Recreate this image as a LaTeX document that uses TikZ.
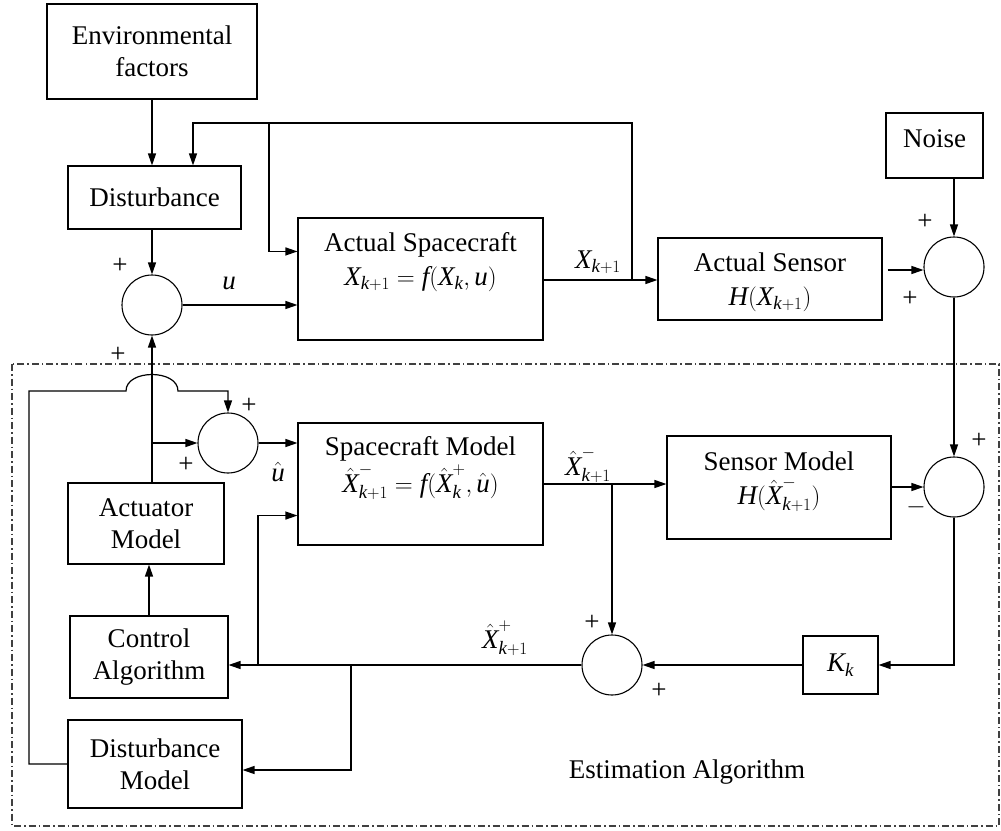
\documentclass[tikz,border=0pt]{standalone}
\usepackage{amsmath}
\usepackage{fontspec}
\setmainfont{Liberation Serif}
\usetikzlibrary{arrows.meta,calc}
\newcommand{\mi}[1]{\textit{#1}}
\begin{document}
\begin{tikzpicture}[x=1pt,y=-1pt,
  font=\fontsize{27}{32}\selectfont,
  box/.style={draw, line width=1.1pt, inner sep=0pt, align=center},
  sumc/.style={draw, circle, line width=1.1pt, minimum size=60pt, inner sep=0pt},
  wire/.style={line width=1.2pt},
  arr/.style={wire, -{Triangle[length=12pt,width=8pt]}},
  lbl/.style={inner sep=0pt, align=center},
  sgn/.style={inner sep=0pt}]
\useasboundingbox (0,0) rectangle (1001,830);

% border of estimation algorithm
\draw[line width=1.1pt, black!75, dash pattern=on 7pt off 3pt on 1.5pt off 3pt] (12,364) rectangle (999,826);
\node[lbl] (est) at (687,772) {Estimation Algorithm};

% upper blocks
\node[box, minimum width=210pt, minimum height=95pt] (env) at (152,51.5) {Environmental\\factors};
\node[box, minimum width=173pt, minimum height=63pt] (dist) at (154.5,197.5) {Disturbance};
\node[sumc] (sum1) at (152,305) {};
\node[box, minimum width=245pt, minimum height=122pt] (actSC) at (420.5,279) {};
\node[lbl] (actSCt) at (420.5,262) {Actual Spacecraft\\[2pt]$\mi{X}_{\mi{k}+1} = \mi{f}(\mi{X}_{\mi{k}},\mi{u})$};
\node[box, minimum width=224pt, minimum height=82pt] (sensor) at (770,279) {};
\node[lbl] (sensort) at (770,282) {Actual Sensor\\[2pt]$\mi{H}(\mi{X}_{\mi{k}+1})$};
\node[box, minimum width=97pt, minimum height=65pt] (noise) at (934.5,145.5) {};
\node[lbl] (noiset) at (934.5,139) {Noise};
\node[sumc] (sum2) at (954,267) {};

% lower blocks
\node[sumc] (sum5) at (228,443) {};
\node[box, minimum width=245pt, minimum height=122pt] (scModel) at (420.5,484) {};
\node[lbl] (scModelt) at (420.5,468) {Spacecraft Model\\[2pt]$\hat{\mi{X}}^{-}_{\mi{k}+1} = \mi{f}(\hat{\mi{X}}^{+}_{\mi{k}},\hat{\mi{u}})$};
\node[box, minimum width=224pt, minimum height=103pt] (sensorModel) at (779,487.5) {};
\node[lbl] (sensorModelt) at (779,482) {Sensor Model\\[2pt]$\mi{H}(\hat{\mi{X}}^{-}_{\mi{k}+1})$};
\node[sumc] (sum3) at (954,487) {};
\node[box, minimum width=156pt, minimum height=81pt] (actuator) at (146,523.5) {Actuator\\Model};
\node[box, minimum width=158pt, minimum height=82pt] (control) at (149,657) {Control\\Algorithm};
\node[box, minimum width=174pt, minimum height=88pt] (distModel) at (155,764) {Disturbance\\Model};
\node[sumc] (sum4) at (612,665) {};
\node[box, minimum width=75pt, minimum height=58pt] (Kk) at (840.5,665) {$\mi{K}_{\mi{k}}$};

% junction coordinates
\coordinate (j1) at (632,280);
\coordinate (j2) at (269,123);
\coordinate (j3) at (193,123);
\coordinate (j4) at (258,665);
\coordinate (j5) at (351,665);
\coordinate (j6) at (152,443);
\coordinate (j7) at (612,484);
\coordinate (c1) at (29,391);
\coordinate (h1) at (126,391);
\coordinate (h2) at (178,391);

% upper connectors
\draw[arr] (env.south) -- (env.south |- dist.north);
\draw[arr] (j1) |- (j3) -- (j3 |- dist.north);
\draw[arr] (j2) |- ($(actSC.north west)+(0,34)$);
\draw[arr] (dist.south -| sum1) -- (sum1.north);
\draw[arr] (sum1.east) -- (actSC.west |- sum1.east);
\node[lbl] (ul) at (229,283) {$\mi{u}$};
\draw[arr] (actSC.east |- j1) -- (sensor.west |- j1);
\node[lbl] (xl) at (598,262) {$\mi{X}_{\mi{k}+1}$};
\draw[arr] ($(sensor.east)+(5,-9)$) -- ($(sum2.west)+(0,3)$);
\draw[arr] (noise.south -| sum2) -- (sum2.north);
\draw[arr] (sum2.south) -- (sum3.north);

% lower connectors
\draw[arr] (sensorModel.east |- sum3) -- (sum3.west);
\draw[arr] (sum3.south) |- (Kk.east);
\draw[arr] (Kk.west) -- (sum4.east);
\draw[arr] (sum4.west) -- (control.east |- sum4.west);
\node[lbl] (xpl) at (505,638) {$\hat{\mi{X}}^{+}_{\mi{k}+1}$};
\draw[arr] (j4) |- ($(scModel.south west)+(0,-30)$);
\draw[arr] (j5) |- ($(distModel.east)+(0,6)$);
\draw[arr] (control.north) -- (control.north |- actuator.south);
\draw[arr] (actuator.north -| sum1) -- (sum1.south);
\draw[arr] (j6) -- (sum5.west);
\draw[arr] (distModel.west) -| (c1) -- (h1) .. controls ($(h1)+(0,-22)$) and ($(h2)+(0,-22)$) .. (h2) -| (sum5.north);
\draw[arr] (sum5.east) -- (scModel.west |- sum5.east);
\node[lbl] (uhl) at (278,472) {$\hat{\mi{u}}$};
\draw[arr] (scModel.east) -- (sensorModel.west |- scModel.east);
\node[lbl] (xml) at (588,465) {$\hat{\mi{X}}^{-}_{\mi{k}+1}$};
\draw[arr] (j7) -- (sum4.north);

% signs
\node[sgn] (s1a) at (120,266) {+};
\node[sgn] (s1b) at (118,355) {+};
\node[sgn] (s2a) at (925,222) {+};
\node[sgn] (s2b) at (910,299) {+};
\node[sgn] (s3a) at (979,441) {+};
\node[sgn] (s3b) at (916,507) {$-$};
\node[sgn] (s4a) at (592,623) {+};
\node[sgn] (s4b) at (659,691) {+};
\node[sgn] (s5a) at (249,406) {+};
\node[sgn] (s5b) at (186,465) {+};
\end{tikzpicture}
\end{document}
